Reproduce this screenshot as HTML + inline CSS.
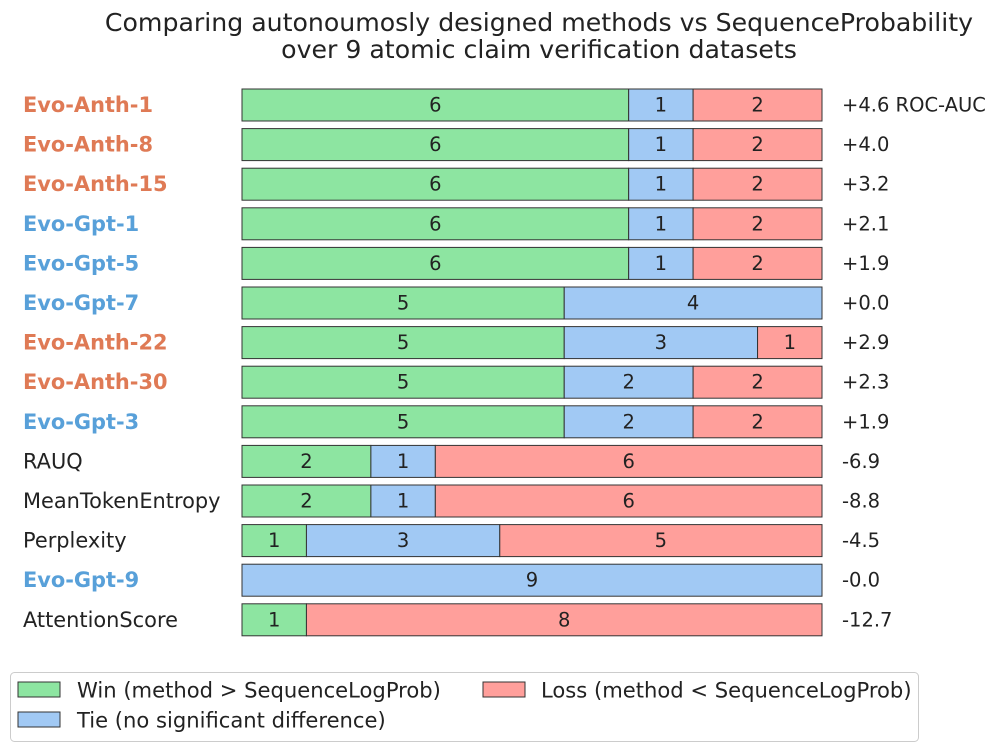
<!DOCTYPE html>
<html><head><meta charset="utf-8"><style>
body{margin:0;background:#fff}
svg{display:block;font-family:"DejaVu Sans","Liberation Sans",sans-serif}
.g{fill:#8de5a1}.b{fill:#a1c9f4}.r{fill:#ff9f9b}
rect.s{stroke:#333;stroke-width:1}
.n{font-size:19.5px;fill:#222;text-anchor:middle;dominant-baseline:central}
.v{font-size:19.5px;fill:#222;dominant-baseline:central}
.lg{font-size:21.1px;fill:#222;dominant-baseline:central}
.l{font-size:20.9px;dominant-baseline:central}
.o{fill:#df7a55;font-weight:bold}.u{fill:#58a0d9;font-weight:bold}.k{fill:#222}
</style></head><body>
<svg width="997" height="751" viewBox="0 0 997 751">
<text x="539" y="31" font-size="25.2" fill="#222" text-anchor="middle">Comparing autonoumosly designed methods vs SequenceProbability</text>
<text x="539" y="58" font-size="25.2" fill="#222" text-anchor="middle">over 9 atomic claim verification datasets</text>
<g id="rows"></g>
<rect x="10.5" y="672.5" width="908" height="69" rx="4" fill="#fff" stroke="#ccc"/>
<rect class="g s" x="18" y="682" width="42" height="15"/>
<text x="77" y="690" class="lg">Win (method &gt; SequenceLogProb)</text>
<rect class="b s" x="18" y="712" width="42" height="15"/>
<text x="77" y="720" class="lg">Tie (no significant difference)</text>
<rect class="r s" x="483" y="682" width="42" height="15"/>
<text x="541" y="690" class="lg">Loss (method &lt; SequenceLogProb)</text>
</svg>
<script>
var d=[["Evo-Anth-1","o",6,1,2,"+4.6 ROC-AUC"],["Evo-Anth-8","o",6,1,2,"+4.0"],["Evo-Anth-15","o",6,1,2,"+3.2"],["Evo-Gpt-1","u",6,1,2,"+2.1"],["Evo-Gpt-5","u",6,1,2,"+1.9"],["Evo-Gpt-7","u",5,4,0,"+0.0"],["Evo-Anth-22","o",5,3,1,"+2.9"],["Evo-Anth-30","o",5,2,2,"+2.3"],["Evo-Gpt-3","u",5,2,2,"+1.9"],["RAUQ","k",2,1,6,"-6.9"],["MeanTokenEntropy","k",2,1,6,"-8.8"],["Perplexity","k",1,3,5,"-4.5"],["Evo-Gpt-9","u",0,9,0,"-0.0"],["AttentionScore","k",1,0,8,"-12.7"]];
var u=580/9,s="";
d.forEach(function(r,i){var y=89+39.6*i,c=y+16,x=242;
s+='<text x="23" y="'+c+'" class="l '+r[1]+'">'+r[0]+'</text>';
["g","b","r"].forEach(function(k,j){var n=r[2+j];if(n>0){var w=n*u;
s+='<rect class="'+k+' s" x="'+x+'" y="'+y+'" width="'+w+'" height="32"/>';
s+='<text class="n" x="'+(x+w/2)+'" y="'+c+'">'+n+'</text>';x+=w;}});
s+='<text class="v" x="842" y="'+c+'">'+r[5]+'</text>';});
document.getElementById("rows").innerHTML=s;
</script>
</body></html>
